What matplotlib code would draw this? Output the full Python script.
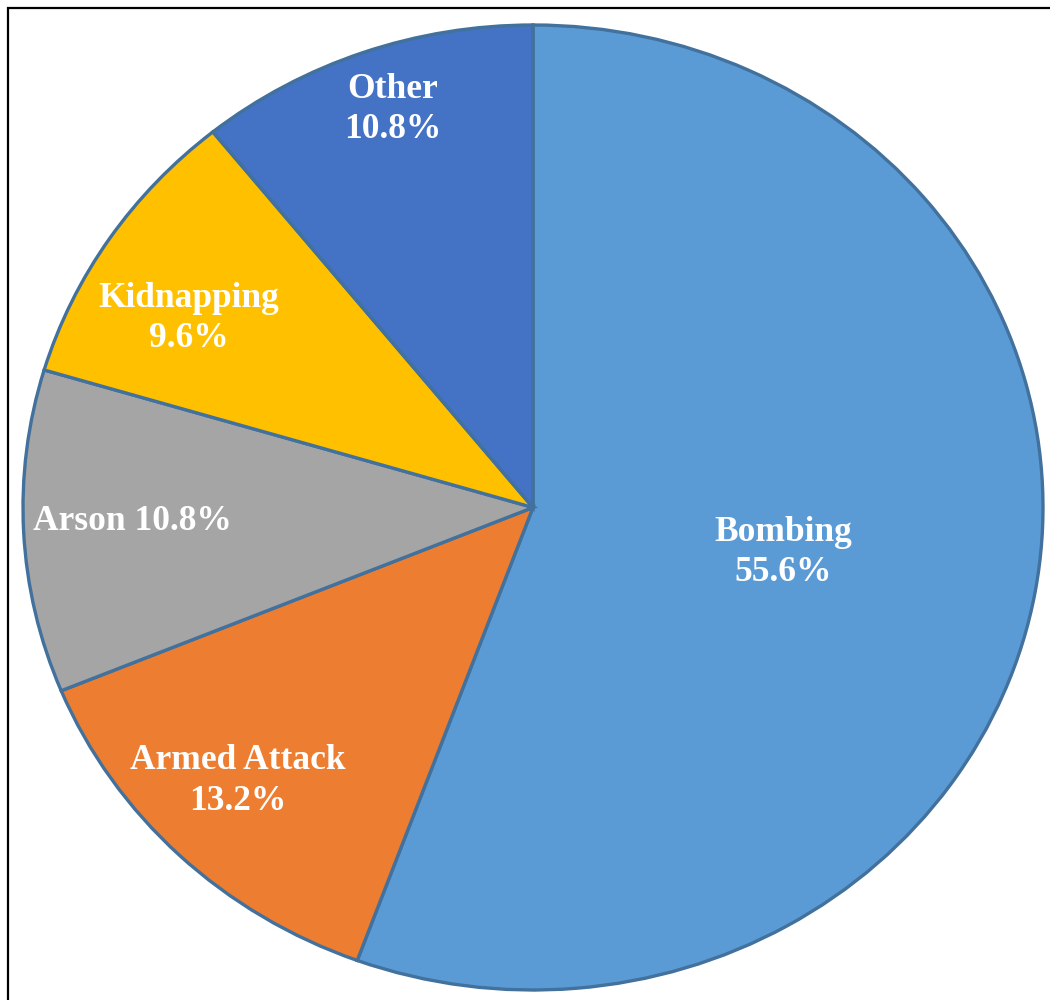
import matplotlib.pyplot as plt
import numpy as np
from matplotlib.patches import Rectangle

# attack types, share of incidents (%)
categories = ["Bombing", "Armed Attack", "Arson", "Kidnapping", "Other"]
shares = [55.6, 13.2, 10.8, 9.6, 10.8]
colors = ["#5B9BD5", "#ED7D31", "#A5A5A5", "#FFC000", "#4472C4"]
# label placement: fraction of radius and angle nudge (deg), per slice
label_dist = [0.50, 0.81, 0.785, 0.78, 0.87]
label_turn = [-0.7, -1.7, -0.8, 3.7, -1.0]
two_line = [True, True, False, True, True]

fig = plt.figure(figsize=(10.5, 10), dpi=100)
ax = fig.add_axes([23 / 1050, 10 / 1000, 1020 / 1050, 965 / 1000])

wedges, _ = ax.pie(shares, colors=colors, startangle=90, counterclock=False,
                   wedgeprops=dict(edgecolor="#41719C", linewidth=2.4))
ax.set_aspect("auto")
ax.set_xlim(-1, 1)
ax.set_ylim(-1, 1)
ax.axis("off")

for w, name, val, d, turn, two in zip(wedges, categories, shares,
                                      label_dist, label_turn, two_line):
    theta = np.deg2rad((w.theta1 + w.theta2) / 2 + turn)
    sep = "\n" if two else " "
    ax.text(d * np.cos(theta), d * np.sin(theta), f"{name}{sep}{val:.1f}%",
            ha="center", va="center", color="white", fontsize=25.5,
            fontweight="bold", family="Liberation Serif", linespacing=1.3)

# frame around the chart
fig.add_artist(Rectangle((8 / 1050, -0.1), 1.2, 1.092,
                         transform=fig.transFigure, fill=False,
                         edgecolor="black", linewidth=1.6))

fig.savefig("out.png", dpi=100)
